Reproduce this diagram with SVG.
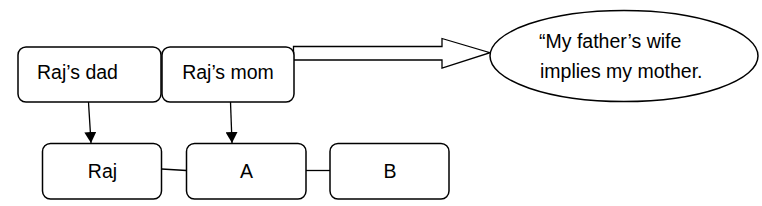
<svg xmlns="http://www.w3.org/2000/svg" width="762" height="206" viewBox="0 0 762 206">
<defs>
<style>
.box{fill:#fff;stroke:#000;stroke-width:1.5}
.t{font-family:"Liberation Sans",Arial,sans-serif;font-size:19.5px;fill:#000}
.c{stroke:#000;stroke-width:1.3;fill:none}
</style>
<marker id="ah" markerWidth="11" markerHeight="12" refX="11" refY="6" orient="auto" markerUnits="userSpaceOnUse" viewBox="0 0 11 12">
<path d="M0,0 L11,6 L0,12 Z" fill="#000"/>
</marker>
</defs>
<rect width="762" height="206" fill="#fff"/>
<g id="connectors">
<line class="c" x1="88.5" y1="102" x2="91" y2="143" marker-end="url(#ah)"/>
<line class="c" x1="230.5" y1="102" x2="232" y2="143" marker-end="url(#ah)"/>
<line class="c" x1="161.5" y1="169" x2="186.5" y2="170.5"/>
<line class="c" x1="306" y1="170.5" x2="330" y2="170.5"/>
<polygon class="c" points="293.5,46.5 442,46.5 442,38.5 490,52.7 442,68 442,60 293.5,60" style="fill:#fff"/>
</g>
<g id="dad">
<rect class="box" x="18" y="47" width="143" height="55" rx="8"/>
<text class="t" x="77.5" y="78.5" text-anchor="middle">Raj’s dad</text>
</g>
<g id="mom">
<rect class="box" x="162" y="47" width="132" height="55" rx="8"/>
<text class="t" x="228" y="78.5" text-anchor="middle">Raj’s mom</text>
</g>
<g id="raj">
<rect class="box" x="42.5" y="143.5" width="119" height="55.5" rx="8"/>
<text class="t" x="102.5" y="178" text-anchor="middle">Raj</text>
</g>
<g id="a">
<rect class="box" x="186.5" y="143.5" width="119.5" height="55.5" rx="8"/>
<text class="t" x="246.5" y="178" text-anchor="middle">A</text>
</g>
<g id="b">
<rect class="box" x="330" y="143.5" width="119" height="55.5" rx="8"/>
<text class="t" x="390" y="178" text-anchor="middle">B</text>
</g>
<g id="quote">
<ellipse class="box" cx="624" cy="56" rx="134" ry="45.5"/>
<text class="t" x="539" y="48">“My father’s wife</text>
<text class="t" x="540" y="78">implies my mother.</text>
</g>
</svg>
